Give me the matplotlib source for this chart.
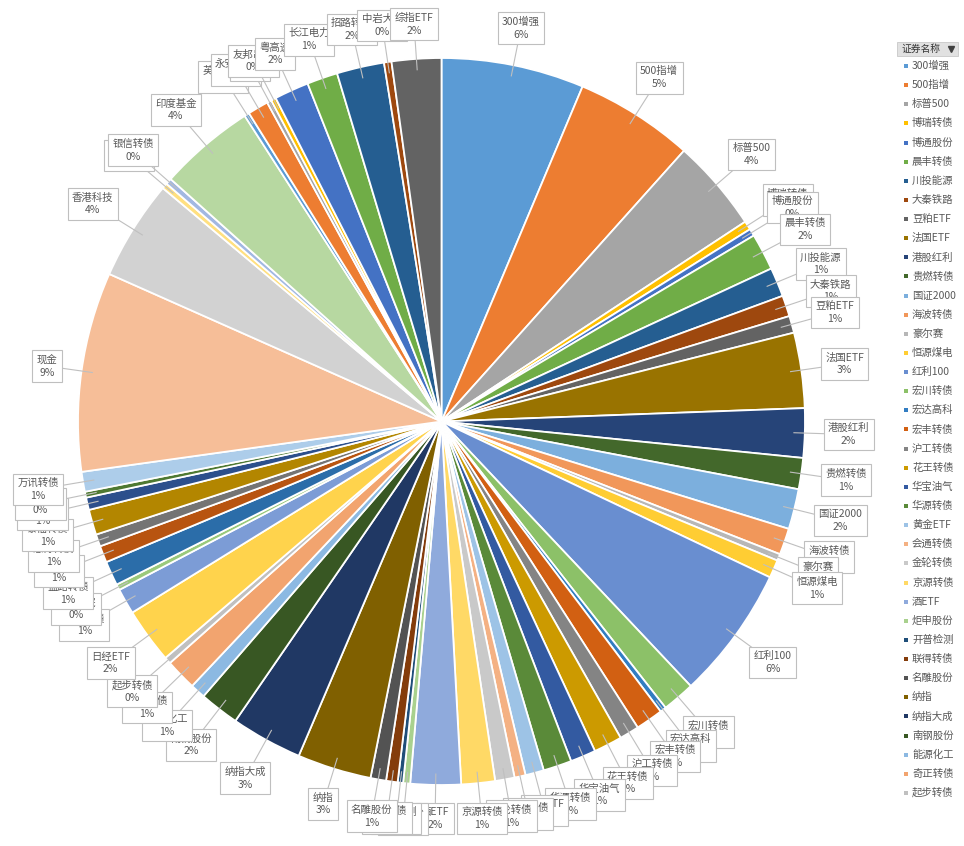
import colorsys
import matplotlib
matplotlib.use("Agg")
import matplotlib.pyplot as plt
from matplotlib.colors import to_rgb
from matplotlib.patches import Rectangle
import numpy as np

plt.rcParams['font.family'] = ['Noto Sans CJK SC', 'DejaVu Sans']

# holdings, in pie order (clockwise from 12 o'clock)
names = ['300增强', '500指增', '标普500', '博瑞转债', '博通股份', '晨丰转债', '川投能源',
         '大秦铁路', '豆粕ETF', '法国ETF', '港股红利', '贵燃转债', '国证2000', '海波转债',
         '豪尔赛', '恒源煤电', '红利100', '宏川转债', '宏达高科', '宏丰转债', '沪工转债',
         '花王转债', '华宝油气', '华源转债', '黄金ETF', '会通转债', '金轮转债', '京源转债',
         '酒ETF', '炬申股份', '开普检测', '联得转债', '名雕股份', '纳指', '纳指大成',
         '南钢股份', '能源化工', '奇正转债', '起步转债', '日经ETF', '瑞鹄转债', '设计总院',
         '盛路转债', '顺博转债', '思特转债', '泰福转债', '天路转债', '通光转债', '万讯转债',
         '现金', '香港科技', '新北转债', '银信转债', '印度基金', '英科转债', '永安期货',
         '优刻得', '友邦吊顶', '粤高速', '长江电力', '招路转债', '中岩大地', '综指ETF']

shares = [6.32, 5.26, 4.10, 0.39, 0.32, 1.63, 1.29,
          0.93, 0.75, 3.33, 2.18, 1.38, 1.78, 1.17,
          0.30, 0.80, 5.90, 1.45, 0.27, 1.22, 0.87,
          1.26, 1.13, 1.26, 0.82, 0.49, 0.86, 1.49,
          2.23, 0.31, 0.24, 0.51, 0.69, 3.28, 3.16,
          1.76, 0.67, 1.39, 0.30, 2.45, 1.14, 0.26,
          1.08, 0.74, 0.54, 1.12, 0.55, 0.26, 0.88,
          8.83, 4.43, 0.25, 0.27, 4.26, 0.22, 0.92,
          0.20, 0.22, 1.53, 1.36, 2.10, 0.33, 2.19]

legend_title = '证券名称'
legend_count = 39   # the legend box is cut off after 起步转债

# office theme accents and the luminance variants excel cycles through
ACCENTS = ['#5B9BD5', '#ED7D31', '#A5A5A5', '#FFC000', '#4472C4', '#70AD47']
VARIANTS = [(1, 0), (0.6, 0), (0.8, 0.2), (0.8, 0), (0.6, 0.4),
            (0.5, 0), (0.7, 0.3), (0.7, 0), (0.5, 0.5)]


def office_color(i):
    h, l, s = colorsys.rgb_to_hls(*to_rgb(ACCENTS[i % 6]))
    mod, off = VARIANTS[(i // 6) % len(VARIANTS)]
    return colorsys.hls_to_rgb(h, min(1.0, l * mod + off), s)


def half_width(label):
    # rough px width of the callout box: cjk glyphs are wider than latin ones
    w = sum(10.4 if ord(ch) > 255 else 5.8 for ch in label)
    return (w + 9) / 2


W, H = 964, 846
CX, CY, R = 441.5, H - 421.5, 363.5
TEXT = '#595959'
EDGE = '#BFBFBF'
HALF_H = 15

fig = plt.figure(figsize=(W / 100, H / 100), dpi=100)
ax = fig.add_axes([0, 0, 1, 1])

colors = [office_color(i) for i in range(len(shares))]
wedges, _ = ax.pie(shares, colors=colors, startangle=90, counterclock=False,
                   center=(CX, CY), radius=R,
                   wedgeprops=dict(edgecolor='white', linewidth=1.3))

total = sum(shares)
for i, w in enumerate(wedges):
    ang = np.deg2rad((w.theta1 + w.theta2) / 2)
    c, s = np.cos(ang), np.sin(ang)
    # keep the near edge of the box just outside the rim
    d = 1.05 * R + half_width(names[i]) * abs(c) + HALF_H * abs(s)
    rx, ry = CX + 0.97 * R * c, CY + 0.97 * R * s
    lx, ly = CX + d * c, CY + d * s
    ax.plot([rx, lx], [ry, ly], color=EDGE, lw=0.8, zorder=3 + i * 0.01)
    pct = shares[i] / total * 100
    ax.text(lx, ly, f"{names[i]}\n{pct:.0f}%", ha='center', va='center',
            fontsize=7.5, color=TEXT, linespacing=1.35, zorder=3.005 + i * 0.01,
            bbox=dict(boxstyle='square,pad=0.42', fc='white', ec=EDGE, lw=0.8))

# pivot-chart style legend on the right
ax.add_patch(Rectangle((897, H - 56), 61, 14, fc='#E1E1E1', ec='#C8C8C8', lw=0.6))
ax.text(901, H - 49, legend_title, fontsize=7, color='#333333', va='center')
ax.plot(951, H - 49, marker='v', color='#404040', ms=4.5)
for i in range(legend_count):
    y = H - 66 - i * 19.13
    ax.add_patch(Rectangle((904, y - 2), 4, 4, fc=colors[i], ec='none'))
    ax.text(912, y, names[i], fontsize=7.5, color=TEXT, va='center')

ax.set_xlim(0, W)
ax.set_ylim(0, H)
ax.set_aspect('equal')
ax.axis('off')

fig.savefig('out.png', dpi=100, facecolor='white')
